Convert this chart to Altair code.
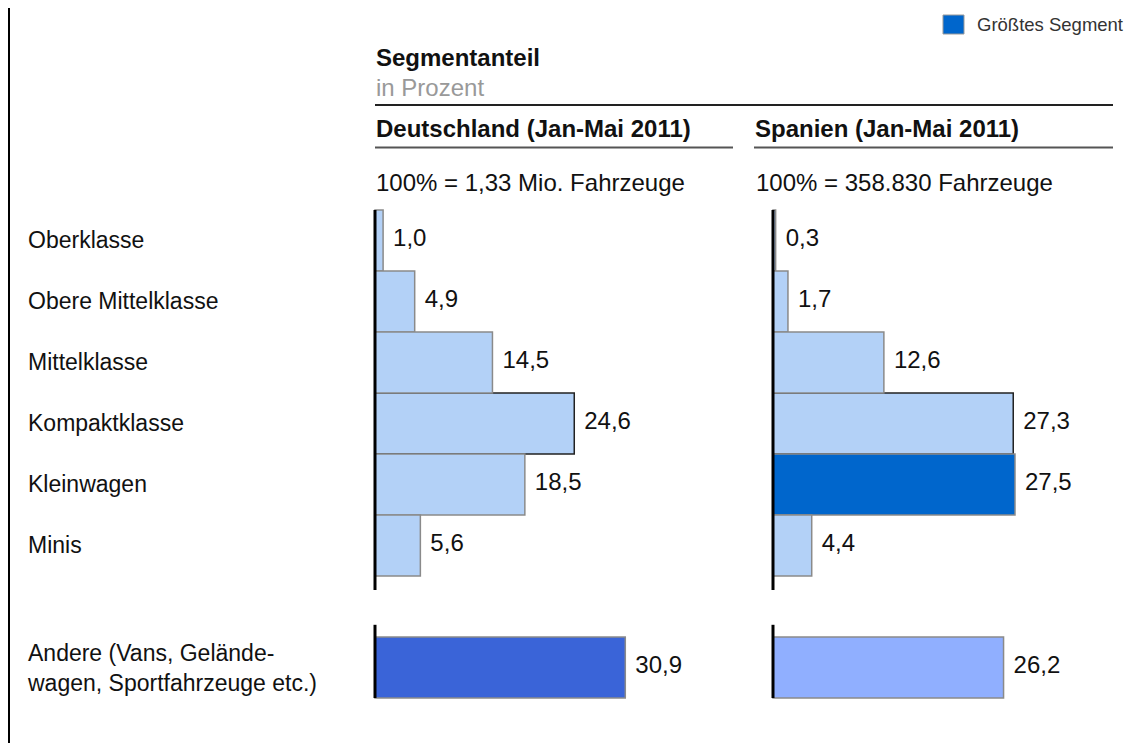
import altair as alt
import pandas as pd

# ---- data ----
segments = [
    "Oberklasse",
    "Obere Mittelklasse",
    "Mittelklasse",
    "Kompaktklasse",
    "Kleinwagen",
    "Minis",
    "Andere (Vans, Gelände-\nwagen, Sportfahrzeuge etc.)",
]
deutschland = [1.0, 4.9, 14.5, 24.6, 18.5, 5.6, 30.9]
spanien = [0.3, 1.7, 12.6, 27.3, 27.5, 4.4, 26.2]

title = "Segmentanteil"
subtitle = "in Prozent"
header_de = "Deutschland (Jan-Mai 2011)"
header_es = "Spanien (Jan-Mai 2011)"
base_de = "100% = 1,33 Mio. Fahrzeuge"
base_es = "100% = 358.830 Fahrzeuge"
legend_label = "Größtes Segment"

FONT = "Liberation Sans"
LIGHT = "#B3D1F7"
DARKEST = "#0066CC"
ANDERE_MAX = "#3A64D8"
ANDERE_OTHER = "#90AFFF"


def build(values):
    n_main = len(values) - 1
    vmax = max(values)
    recs = []
    for i, (seg, v) in enumerate(zip(segments, values)):
        row = i if i < n_main else i + 1  # gap row before "Andere"
        if i == n_main:
            fill = ANDERE_MAX if v == vmax else ANDERE_OTHER
        else:
            fill = DARKEST if v == vmax else LIGHT
        stroke = "#222222" if seg == "Kompaktklasse" else "#8A8A8A"
        recs.append(dict(segment=seg, value=v, row=row, row_end=row + 1,
                         mid=row + 0.5, label=f"{v:.1f}".replace(".", ","),
                         fill=fill, stroke=stroke, multi="\n" in seg,
                         order=0 if seg == "Kompaktklasse" else 1))
    df = pd.DataFrame(recs).sort_values("order")
    return df


df_de = build(deutschland)
df_es = build(spanien)

yscale = alt.Scale(domain=[0, 8], range=[202, 690], nice=False, zero=False)


def panel(df, xrange):
    xs = alt.Scale(domain=[0, 40], range=xrange, nice=False, zero=False)
    bars = alt.Chart(df).mark_rect(strokeWidth=1.5).encode(
        x=alt.X("value:Q", scale=xs, axis=None),
        x2=alt.datum(0),
        y=alt.Y("row:Q", scale=yscale, axis=None),
        y2="row_end:Q",
        fill=alt.Fill("fill:N", scale=None),
        stroke=alt.Stroke("stroke:N", scale=None),
    )
    labels = alt.Chart(df).mark_text(
        align="left", baseline="middle", dx=10, dy=-2,
        font=FONT, fontSize=24, color="#111111",
    ).encode(x="value:Q", y="mid:Q", text="label:N")
    one = alt.Data(values=[{}])
    axis_main = alt.Chart(one).mark_rule(color="black", strokeWidth=3).encode(
        x=alt.datum(0), y=alt.datum(0), y2=alt.datum(6.23))
    axis_other = alt.Chart(one).mark_rule(color="black", strokeWidth=3).encode(
        x=alt.datum(0), y=alt.datum(6.8), y2=alt.datum(8))
    return alt.layer(bars, axis_main, axis_other, labels)


left = panel(df_de, [367, 691])
right = panel(df_es, [765, 1117])

seg_labels = alt.Chart(df_de).transform_filter("!datum.multi").mark_text(
    align="left", baseline="middle", font=FONT, fontSize=23, color="#111111",
).encode(x=alt.value(20), y="mid:Q", text="segment:N")

seg_labels_multi = alt.Chart(df_de).transform_filter("datum.multi").mark_text(
    align="left", baseline="middle", font=FONT, fontSize=23, color="#111111",
    lineBreak="\n", lineHeight=30, dy=-14,
).encode(x=alt.value(20), y="mid:Q", text="segment:N")


def note(txt, x, y, size=24, bold=False, color="#111111", baseline="alphabetic"):
    return alt.Chart(alt.Data(values=[{}])).mark_text(
        align="left", baseline=baseline, font=FONT, fontSize=size,
        fontWeight="bold" if bold else "normal", color=color, text=txt,
    ).encode(x=alt.value(x), y=alt.value(y))


def hline(x1, x2, y, color, w):
    return alt.Chart(alt.Data(values=[{}])).mark_rule(color=color, strokeWidth=w).encode(
        x=alt.value(x1), x2=alt.value(x2), y=alt.value(y))


notes = [
    note(title, 368, 58, bold=True),
    note(subtitle, 368, 88, color="#999999"),
    hline(367, 1105, 97, "#222222", 2),
    note(header_de, 368, 129, bold=True),
    note(header_es, 747, 129, bold=True),
    hline(367, 725, 139.5, "#555555", 2),
    hline(746, 1105, 139.5, "#555555", 2),
    note(base_de, 368, 183),
    note(base_es, 748, 183),
    alt.Chart(alt.Data(values=[{}])).mark_rect(fill=DARKEST, stroke="#999999", strokeWidth=1).encode(
        x=alt.value(935), x2=alt.value(956), y=alt.value(7), y2=alt.value(26)),
    note(legend_label, 969, 17, size=18.5, color="#333333", baseline="middle"),
    alt.Chart(alt.Data(values=[{}])).mark_rule(color="black", strokeWidth=2).encode(
        x=alt.value(1), y=alt.value(0), y2=alt.value(735)),
]

chart = alt.layer(left, right, seg_labels, seg_labels_multi, *notes).resolve_scale(
    x="independent"
).properties(
    width=1117, height=735, padding=0,
    autosize=alt.AutoSizeParams(type="none"),
).configure_view(stroke=None)

chart.save("out.html", embed_options={"renderer": "svg", "actions": False})
